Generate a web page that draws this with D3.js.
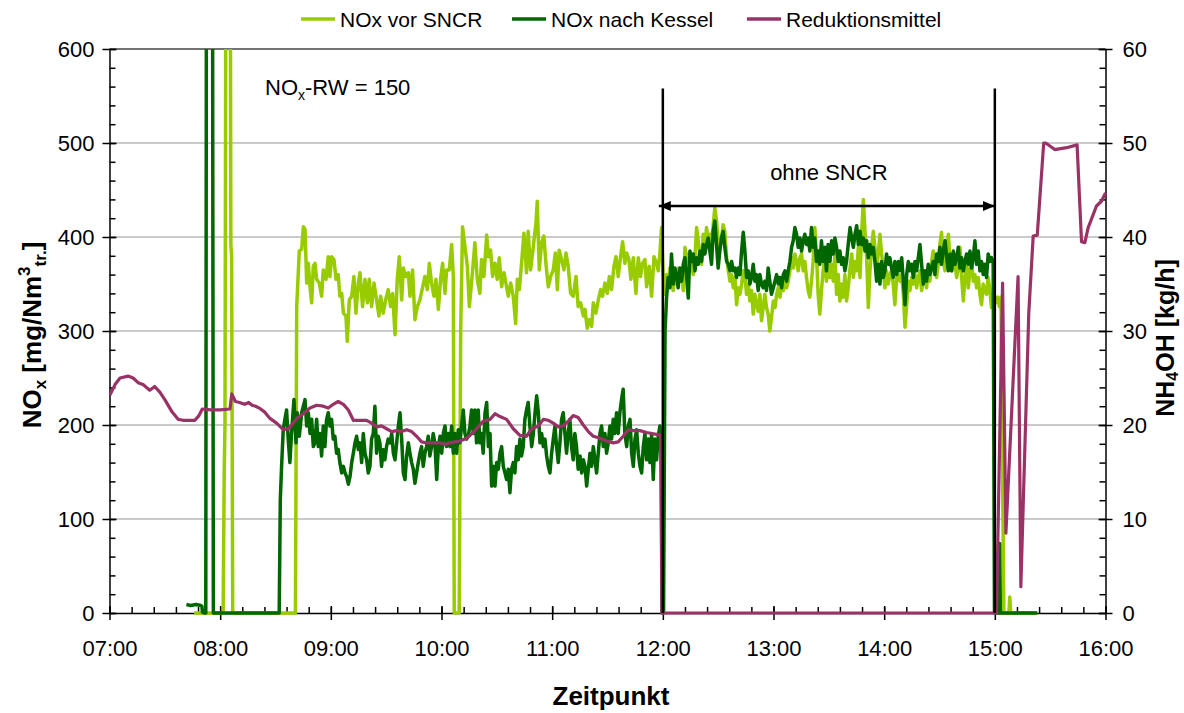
<!DOCTYPE html>
<html>
<head>
<meta charset="utf-8">
<script src="https://cdn.jsdelivr.net/npm/d3@7"></script>
<style>
  body { margin: 0; background: #fff; }
  svg text { font-family: "Liberation Sans", Arial, Helvetica, sans-serif; fill: #000; }
</style>
</head>
<body>
<div id="chart"></div>
<script>
// legend names + colours
const seriesNames = ["NOx vor SNCR", "NOx nach Kessel", "Reduktionsmittel"];
const seriesColors = ["#99cc00", "#006600", "#993366"];

// axis tick labels
const timeLabels = ["07:00", "08:00", "09:00", "10:00", "11:00", "12:00", "13:00", "14:00", "15:00", "16:00"];
const noxTicks = [0, 100, 200, 300, 400, 500, 600];
const nh4ohTicks = [0, 10, 20, 30, 40, 50, 60];

// [minutes after 07:00, NOx mg/Nm3]  (800 = off the top of the chart)
const noxVorSncr = [
  [45.9,0],[61.6,0],[62.2,150],[62.6,200],[63.2,800],[65.4,800],[65.8,392],[66.2,380],[66.8,0],[100.8,0],
  [101.5,326],[102.9,385],[104.2,387],[105.1,411],[106.0,408],[106.9,351],[107.8,372],[108.7,347],[109.6,330],
  [110.5,369],[111.4,372],[112.3,355],[113.7,351],[115.0,337],[115.9,365],[117.4,355],[118.6,379],[119.5,358],
  [120.4,379],[121.7,376],[122.8,355],[124.0,360],[124.9,337],[125.9,340],[126.8,319],[128.2,316],[128.9,289],
  [130.0,333],[131.3,337],[132.5,358],[133.6,319],[134.9,351],[135.8,362],[137.2,326],[138.5,355],[139.8,330],
  [140.8,355],[142.1,326],[143.4,351],[144.8,333],[146.1,316],[147.0,337],[148.4,319],[149.7,333],[151.1,344],
  [152.4,326],[153.5,340],[154.8,296],[156.0,355],[157.1,379],[158.4,333],[159.3,367],[160.7,358],[162.0,362],
  [162.9,337],[164.3,365],[165.6,312],[166.9,326],[168.3,333],[169.8,347],[171.0,358],[172.3,344],[173.4,372],
  [174.6,351],[175.9,337],[177.0,355],[178.3,323],[179.5,355],[180.6,372],[181.9,340],[182.8,365],[184.2,365],
  [185.5,392],[186.4,358],[186.9,0],[189.6,0],[190.4,300],[191.4,411],[192.7,390],[194.0,369],[195.1,326],
  [196.9,365],[198.1,394],[199.4,355],[200.8,340],[201.7,376],[203.0,358],[204.5,402],[205.4,379],[206.6,386],
  [207.7,358],[209.0,372],[210.2,355],[211.3,378],[212.6,347],[213.9,362],[215.3,347],[216.2,337],[217.5,351],
  [218.9,337],[220.2,308],[221.1,355],[222.2,344],[223.4,372],[224.7,404],[226.1,362],[227.0,406],[228.3,365],
  [229.8,390],[231.2,415],[231.9,438],[233.0,365],[234.3,394],[235.5,401],[236.6,372],[237.9,347],[239.2,358],
  [240.6,365],[241.7,383],[242.8,344],[243.8,386],[245.1,376],[246.4,365],[247.5,383],[248.7,369],[250.0,340],
  [251.4,337],[252.9,358],[254.1,326],[255.4,330],[256.9,316],[257.8,323],[259.0,303],[260.1,312],[261.4,305],
  [262.3,330],[263.7,319],[265.0,333],[266.3,344],[267.3,337],[268.6,351],[269.9,340],[271.0,358],[272.2,344],
  [273.5,369],[274.6,379],[275.8,358],[277.1,379],[278.2,395],[279.4,372],[280.4,383],[281.6,376],[282.7,355],
  [284.0,378],[285.4,340],[286.7,378],[287.9,358],[289.0,372],[290.3,376],[291.2,347],[292.6,369],[293.9,337],
  [295.2,379],[296.6,372],[297.5,364],[298.4,382],[299.3,410],[300.2,360],[301.1,339],[302.0,360],[302.9,346],
  [303.8,367],[304.7,353],[305.6,343],[306.5,364],[307.4,350],[308.3,367],[309.3,353],[310.2,360],[311.1,343],
  [312.0,389],[312.9,374],[313.8,382],[314.7,364],[315.6,371],[316.5,360],[317.4,378],[318.3,410],[319.2,396],
  [320.1,378],[321.0,371],[321.9,403],[322.8,389],[323.7,410],[324.6,396],[325.5,403],[326.4,389],[327.3,413],
  [328.2,431],[329.1,417],[330.0,396],[330.9,389],[331.8,399],[332.7,413],[333.6,406],[334.6,378],[335.5,364],
  [336.4,353],[337.3,360],[338.2,346],[339.1,357],[340.0,328],[340.9,346],[341.8,339],[342.7,350],[343.6,364],
  [344.5,357],[345.4,339],[346.3,350],[347.2,332],[348.1,343],[349.0,318],[349.9,339],[350.8,328],[351.7,321],
  [352.6,339],[353.5,311],[354.4,325],[355.3,339],[356.2,325],[357.1,318],[358.0,300],[358.9,314],[359.9,332],
  [360.8,325],[361.7,339],[362.6,346],[363.5,336],[364.4,350],[365.3,343],[366.2,357],[367.1,346],[368.0,353],
  [368.9,364],[369.8,378],[370.7,367],[371.6,382],[372.5,374],[373.4,364],[374.3,378],[375.2,382],[376.1,364],
  [377.0,374],[377.9,357],[378.8,343],[379.7,336],[380.6,353],[381.5,374],[382.4,410],[383.3,382],[384.2,339],
  [385.1,318],[386.0,343],[386.9,364],[387.8,378],[388.7,353],[389.6,371],[390.6,357],[391.5,371],[392.4,353],
  [393.3,382],[394.2,339],[395.1,360],[396.0,332],[396.9,350],[397.8,336],[398.7,360],[399.6,332],[400.5,346],
  [401.5,367],[402.4,382],[403.3,357],[404.2,374],[405.1,364],[406.0,389],[406.9,357],[407.8,403],[408.7,440],
  [409.6,406],[410.5,378],[411.4,325],[412.3,364],[413.2,389],[414.1,406],[415.0,389],[415.9,364],[416.8,382],
  [417.7,403],[418.6,382],[419.5,367],[420.4,346],[421.3,364],[422.2,350],[423.1,360],[424.0,364],[424.9,350],
  [425.8,328],[426.8,357],[427.7,360],[428.6,353],[429.5,360],[430.4,339],[431.3,304],[432.2,328],[433.1,353],
  [434.0,343],[434.9,357],[435.8,350],[436.7,360],[437.6,346],[438.5,357],[439.4,364],[440.3,343],[441.2,353],
  [442.1,360],[443.0,346],[443.9,367],[444.8,353],[445.7,374],[446.6,385],[447.5,367],[448.4,357],[449.3,371],
  [450.2,392],[451.1,405],[452.0,374],[453.0,364],[453.9,385],[454.8,403],[455.7,374],[456.6,364],[457.5,378],
  [458.4,371],[459.3,357],[460.2,367],[461.1,389],[462.0,357],[462.9,332],[463.8,357],[464.7,371],[465.6,346],
  [466.5,364],[467.4,374],[468.3,353],[469.2,360],[470.1,346],[471.0,357],[471.9,339],[472.8,328],[473.7,350],
  [474.6,343],[475.5,339],[476.4,357],[477.3,343],[478.2,325],[479.1,339],[480.5,330],[481.5,336],[482.5,326],
  [483.3,336],[484.9,0],[487.6,0],[488.1,17],[488.6,0],[503.0,0]
];

const noxNachKessel = [
  [41.7,9],[44.0,8],[47.0,9],[49.5,8],[50.1,7],[50.4,1],[51.5,0],[52.2,0],[52.6,800],[55.8,800],[56.3,0],[92.0,0],
  [92.6,120],[93.3,156],[94.2,195],[95.1,206],[96.0,216],[96.9,185],[97.8,160],[98.7,191],[100.0,227],[101.1,181],
  [101.8,213],[102.9,188],[104.2,213],[105.1,220],[106.0,227],[106.9,199],[107.8,213],[108.7,191],[109.6,206],
  [110.5,177],[111.4,181],[112.3,206],[113.2,177],[114.1,191],[115.0,167],[115.9,199],[116.8,177],[117.7,206],
  [118.6,213],[119.5,199],[120.4,206],[121.3,185],[122.2,188],[123.1,170],[124.0,174],[124.9,160],[125.9,149],
  [126.8,156],[127.7,149],[128.6,145],[129.5,137],[130.4,145],[131.3,160],[132.2,170],[133.1,181],[134.0,188],
  [134.9,174],[135.8,181],[136.7,160],[137.6,191],[138.5,170],[139.4,163],[140.3,149],[141.2,156],[142.1,185],
  [143.0,191],[143.9,220],[144.8,170],[145.7,188],[146.6,181],[147.5,156],[148.4,174],[149.3,163],[150.2,177],
  [151.1,185],[152.1,181],[153.0,191],[153.9,170],[154.8,163],[155.7,181],[156.6,199],[157.5,213],[158.4,185],
  [159.3,149],[160.2,142],[161.1,167],[162.0,181],[162.9,170],[163.8,160],[164.7,153],[165.6,138],[166.5,149],
  [167.4,160],[168.3,170],[169.2,177],[170.1,156],[171.0,170],[171.9,177],[172.8,188],[173.7,167],[174.6,177],
  [175.5,191],[176.4,181],[177.4,142],[178.3,177],[179.2,188],[180.1,170],[181.0,191],[181.9,199],[182.8,177],
  [183.7,191],[184.6,177],[185.5,199],[186.4,170],[187.3,191],[188.2,170],[189.1,195],[190.0,181],[190.9,199],
  [191.8,216],[192.7,191],[193.6,185],[194.5,188],[195.4,199],[196.3,216],[197.2,191],[198.1,216],[199.0,181],
  [199.9,216],[200.8,181],[201.7,191],[202.6,170],[203.6,213],[204.5,224],[205.4,177],[206.3,191],[207.2,135],
  [208.1,156],[209.0,135],[209.9,160],[210.8,153],[211.7,170],[212.6,177],[213.5,156],[214.4,149],[215.3,142],
  [216.2,153],[217.1,128],[218.0,153],[218.9,160],[219.8,149],[220.7,177],[221.6,163],[222.5,185],[223.4,167],
  [224.3,177],[225.2,206],[226.1,216],[227.0,224],[227.9,199],[228.9,177],[229.8,191],[230.7,213],[231.6,231],
  [232.5,213],[233.4,181],[234.3,191],[235.2,177],[236.1,185],[237.0,167],[237.9,156],[238.8,149],[239.7,170],
  [240.6,185],[241.5,199],[242.4,177],[243.3,160],[244.2,181],[245.1,206],[246.0,213],[246.9,191],[247.8,170],
  [248.7,191],[249.6,206],[250.5,177],[251.4,163],[252.3,191],[253.2,177],[254.1,153],[255.1,167],[256.0,149],
  [256.9,163],[257.8,156],[258.7,135],[259.6,153],[260.5,170],[261.4,156],[262.3,177],[263.2,163],[264.1,149],
  [265.0,170],[265.9,191],[266.8,199],[267.7,177],[268.6,191],[269.5,170],[270.4,181],[271.3,199],[272.2,185],
  [273.1,206],[274.0,191],[274.9,213],[275.8,191],[276.7,213],[277.6,227],[278.5,238],[279.4,191],[280.4,177],
  [281.3,199],[282.2,206],[283.1,170],[284.0,156],[284.9,185],[285.8,195],[286.7,170],[287.6,156],[288.5,149],
  [289.4,177],[290.3,191],[291.2,163],[292.1,185],[293.0,160],[293.9,191],[294.8,142],[295.7,185],[296.6,163],
  [297.5,188],[298.4,199],[299.2,170],[299.6,0],[300.4,0],[301.2,300],[302.0,335],[302.9,357],[303.8,346],
  [304.7,382],[305.6,350],[306.5,367],[307.4,360],[308.3,346],[309.3,367],[310.2,353],[311.1,371],[312.0,378],
  [312.9,357],[313.8,335],[314.7,385],[315.6,374],[316.5,382],[317.4,364],[318.3,378],[319.2,371],[320.1,385],
  [321.0,374],[321.9,392],[322.8,382],[323.7,392],[324.6,399],[325.5,385],[326.4,371],[327.3,406],[328.2,417],
  [329.1,392],[330.0,367],[330.9,385],[331.8,399],[332.7,406],[333.6,389],[334.6,374],[335.5,371],[336.4,364],
  [337.3,374],[338.2,364],[339.1,367],[340.0,357],[340.9,367],[341.8,360],[342.7,385],[343.6,405],[344.5,385],
  [345.4,357],[346.3,364],[347.2,350],[348.1,357],[349.0,371],[349.9,353],[350.8,360],[351.7,343],[352.6,360],
  [353.5,350],[354.4,346],[355.3,353],[356.2,343],[357.1,367],[358.0,353],[358.9,339],[359.9,346],[360.8,353],
  [361.7,360],[362.6,350],[363.5,357],[364.4,346],[365.3,360],[366.2,364],[367.1,353],[368.0,364],[368.9,374],
  [369.8,389],[370.7,396],[371.6,410],[372.5,403],[373.4,389],[374.3,399],[375.2,385],[376.1,396],[377.0,403],
  [377.9,392],[378.8,399],[379.7,385],[380.6,410],[381.5,389],[382.4,399],[383.3,374],[384.2,385],[385.1,371],
  [386.0,396],[386.9,374],[387.8,389],[388.7,364],[389.6,392],[390.6,374],[391.5,396],[392.4,382],[393.3,399],
  [394.2,389],[395.1,374],[396.0,385],[396.9,371],[397.8,378],[398.7,364],[399.6,374],[400.5,392],[401.5,410],
  [402.4,399],[403.3,389],[404.2,403],[405.1,412],[406.0,392],[406.9,406],[407.8,392],[408.7,399],[409.6,385],
  [410.5,396],[411.4,378],[412.3,392],[413.2,382],[414.1,389],[415.0,374],[415.9,353],[416.8,371],[417.7,350],
  [418.6,374],[419.5,357],[420.4,364],[421.3,382],[422.2,371],[423.1,378],[424.0,367],[424.9,357],[425.8,374],
  [426.8,360],[427.7,374],[428.6,364],[429.5,378],[430.4,353],[431.3,328],[432.2,360],[433.1,374],[434.0,364],
  [434.9,371],[435.8,357],[436.7,374],[437.6,364],[438.5,378],[439.4,392],[440.3,371],[441.2,350],[442.1,364],
  [443.0,353],[443.9,371],[444.8,360],[445.7,367],[446.6,374],[447.5,360],[448.4,382],[449.3,374],[450.2,389],
  [451.1,371],[452.0,385],[453.0,396],[453.9,378],[454.8,364],[455.7,382],[456.6,364],[457.5,385],[458.4,371],
  [459.3,378],[460.2,389],[461.1,367],[462.0,378],[462.9,364],[463.8,374],[464.7,382],[465.6,371],[466.5,385],
  [467.4,367],[468.3,378],[469.2,396],[470.1,371],[471.0,385],[471.9,364],[472.8,374],[473.7,360],[474.6,371],
  [475.5,357],[476.4,382],[477.3,374],[478.2,378],[479.1,372],[479.8,0],[482.0,0],[482.6,74],[483.0,0],[503.0,0]
];

// [minutes after 07:00, NH4OH kg/h]
const reduktionsmittel = [
  [0.3,23.2],[3.0,24.3],[5.7,25.0],[10.1,25.2],[12.8,25.0],[15.5,24.5],[18.2,24.3],[21.8,23.7],[24.5,24.1],
  [27.3,23.5],[30.0,22.7],[33.9,21.4],[37.2,20.6],[40.0,20.5],[43.7,20.5],[46.3,20.5],[48.5,21.0],[50.3,21.7],
  [55.0,21.6],[60.0,21.6],[65.3,21.7],[66.3,23.3],[68.3,22.5],[70.5,22.4],[73.3,22.2],[75.5,22.4],[77.3,22.1],
  [79.2,22.0],[81.2,21.8],[84.0,21.4],[87.0,20.7],[90.6,20.2],[94.2,19.5],[96.9,19.6],[99.6,20.2],[101.5,20.7],
  [105.1,21.2],[108.7,21.8],[112.3,22.1],[115.9,22.0],[118.6,21.8],[121.3,22.2],[124.0,22.5],[126.8,22.2],
  [129.5,21.6],[132.2,20.5],[134.9,20.5],[139.4,20.5],[142.1,20.2],[144.8,19.8],[147.5,19.9],[150.2,19.6],
  [153.0,19.3],[155.7,19.4],[158.4,19.3],[161.1,19.5],[163.8,19.3],[166.5,18.8],[169.2,18.2],[171.9,18.1],
  [175.5,18.1],[179.2,18.1],[181.9,17.9],[184.6,18.1],[187.3,18.2],[190.0,18.3],[193.6,18.6],[197.2,19.2],
  [199.9,19.8],[202.6,20.4],[206.3,20.6],[209.0,21.2],[211.7,20.9],[215.3,20.6],[218.9,19.6],[222.5,18.9],
  [226.1,18.8],[228.9,19.6],[232.5,19.9],[235.2,20.6],[237.9,20.5],[240.6,20.2],[243.3,19.8],[246.0,19.9],
  [248.7,20.4],[251.4,21.0],[254.1,20.8],[256.9,20.0],[259.6,19.3],[262.3,18.8],[265.9,18.6],[269.5,18.3],
  [273.1,18.1],[275.8,18.2],[278.5,18.8],[281.3,19.5],[284.0,19.4],[287.6,19.4],[291.2,19.2],[293.9,19.1],
  [296.6,19.0],[298.8,18.9],[299.5,0],[480.0,0],[480.9,0],[484.2,35.1],[486.0,8.5],[492.6,35.8],[494.1,2.8],
  [498.4,31.9],[500.8,40.1],[503.0,40.2],[506.5,50.0],[507.6,50.0],[512.5,49.3],[518.9,49.5],[524.6,49.8],
  [527.0,39.5],[528.8,39.4],[530.6,41.0],[532.4,41.9],[535.1,43.3],[537.8,43.8],[540.0,44.7]
];

// "ohne SNCR" period (minutes after 07:00) and its marker heights in NOx units
const ohneSncrPeriod = [300, 480];
const markerTop = 558;
const arrowLevel = 433;

const W = 1184, H = 713;
const margin = { left: 109.5, right: 1105.5, top: 49, bottom: 613 };

const svg = d3.select("#chart").append("svg")
    .attr("width", W)
    .attr("height", H);

const x = d3.scaleLinear().domain([0, 540]).range([margin.left, margin.right]);
const y = d3.scaleLinear().domain([0, 600]).range([margin.bottom, margin.top]);
const y2 = d3.scaleLinear().domain([0, 60]).range([margin.bottom, margin.top]);

// horizontal gridlines
svg.append("g")
    .selectAll("line")
    .data(noxTicks.filter(d => d > 0))
    .join("line")
    .attr("x1", margin.left).attr("x2", margin.right)
    .attr("y1", d => y(d)).attr("y2", d => y(d))
    .attr("stroke", d => d === 600 ? "#444" : "#b8b8b8")
    .attr("stroke-width", 1.5);

function styleAxis(g) {
    g.selectAll("path, line").attr("stroke", "#000").attr("stroke-width", 1.5);
    g.selectAll("text").attr("font-size", 22).attr("fill", "#000")
        .attr("font-family", "Liberation Sans, Arial, sans-serif");
}
const noDomain = g => g.select(".domain").remove();

// left axis: labels + outer ticks, inner major + minor ticks
const gL = svg.append("g").attr("transform", `translate(${margin.left},0)`);
gL.call(d3.axisLeft(y).tickValues(noxTicks).tickSize(7).tickSizeOuter(0).tickPadding(8));
gL.append("g").call(d3.axisRight(y).tickValues(noxTicks).tickSize(7).tickFormat("")).call(noDomain);
gL.append("g").call(d3.axisRight(y).tickValues(d3.range(0, 601, 20)).tickSize(6).tickFormat("")).call(noDomain);
styleAxis(gL);

// right axis
const gR = svg.append("g").attr("transform", `translate(${margin.right},0)`);
gR.call(d3.axisRight(y2).tickValues(nh4ohTicks).tickSize(7).tickSizeOuter(0).tickPadding(10));
gR.append("g").call(d3.axisLeft(y2).tickValues(nh4ohTicks).tickSize(7).tickFormat("")).call(noDomain);
gR.append("g").call(d3.axisLeft(y2).tickValues(d3.range(0, 61, 2)).tickSize(6).tickFormat("")).call(noDomain);
styleAxis(gR);

// bottom time axis
const hourTicks = timeLabels.map((d, i) => i * 60);
const gB = svg.append("g").attr("transform", `translate(0,${margin.bottom})`);
gB.call(d3.axisBottom(x).tickValues(hourTicks).tickSize(7).tickSizeOuter(0).tickPadding(20)
    .tickFormat((d, i) => timeLabels[i]));
gB.append("g").call(d3.axisTop(x).tickValues(hourTicks).tickSize(7).tickFormat("")).call(noDomain);
gB.append("g").call(d3.axisTop(x).tickValues(d3.range(0, 541, 12)).tickSize(6).tickFormat("")).call(noDomain);
styleAxis(gB);

// clip lines to the plot area (a bit below zero so the zero line shows fully)
svg.append("clipPath").attr("id", "plot-clip")
    .append("rect")
    .attr("x", margin.left - 2).attr("y", margin.top)
    .attr("width", margin.right - margin.left + 4).attr("height", margin.bottom - margin.top + 4);

const lineNox = d3.line().x(d => x(d[0])).y(d => y(d[1]));
const lineNh4 = d3.line().x(d => x(d[0])).y(d => y2(d[1]));

const plot = svg.append("g").attr("clip-path", "url(#plot-clip)");
plot.append("path").datum(noxVorSncr)
    .attr("fill", "none").attr("stroke", seriesColors[0])
    .attr("stroke-width", 3.5).attr("stroke-linejoin", "round")
    .attr("d", lineNox);
plot.append("path").datum(noxNachKessel)
    .attr("fill", "none").attr("stroke", seriesColors[1])
    .attr("stroke-width", 3.5).attr("stroke-linejoin", "round")
    .attr("d", lineNox);
plot.append("path").datum(reduktionsmittel)
    .attr("fill", "none").attr("stroke", seriesColors[2])
    .attr("stroke-width", 3.2).attr("stroke-linejoin", "round")
    .attr("d", lineNh4);

// markers for the period without SNCR
const defs = svg.append("defs");
["start", "end"].forEach(k => {
    defs.append("marker")
        .attr("id", "arrow-" + k)
        .attr("viewBox", "0 0 12 10")
        .attr("refX", k === "end" ? 12 : 0).attr("refY", 5)
        .attr("markerWidth", 12).attr("markerHeight", 10)
        .attr("markerUnits", "userSpaceOnUse")
        .attr("orient", "auto")
        .append("path")
        .attr("d", k === "end" ? "M0,0 L12,5 L0,10 Z" : "M12,0 L0,5 L12,10 Z")
        .attr("fill", "#000");
});

svg.append("g")
    .selectAll("line")
    .data(ohneSncrPeriod)
    .join("line")
    .attr("x1", d => x(d)).attr("x2", d => x(d))
    .attr("y1", y(markerTop)).attr("y2", y(0))
    .attr("stroke", "#000").attr("stroke-width", 2.5);

svg.append("line")
    .attr("x1", x(ohneSncrPeriod[0]) - 4).attr("x2", x(ohneSncrPeriod[1]))
    .attr("y1", y(arrowLevel)).attr("y2", y(arrowLevel))
    .attr("stroke", "#000").attr("stroke-width", 2.5)
    .attr("marker-start", "url(#arrow-start)")
    .attr("marker-end", "url(#arrow-end)");

svg.append("text")
    .attr("x", x(d3.mean(ohneSncrPeriod)))
    .attr("y", 180)
    .attr("text-anchor", "middle")
    .attr("font-size", 22)
    .text("ohne SNCR");

const rw = svg.append("text")
    .attr("x", 265).attr("y", 95)
    .attr("font-size", 22);
rw.append("tspan").text("NO");
rw.append("tspan").attr("font-size", 14).attr("dy", 5).text("x");
rw.append("tspan").attr("dy", -5).text("-RW = 150");

// legend
const legend = svg.append("g");
const legendX = [301, 512, 747];
seriesNames.forEach((name, i) => {
    legend.append("line")
        .attr("x1", legendX[i]).attr("x2", legendX[i] + 34)
        .attr("y1", 19).attr("y2", 19)
        .attr("stroke", seriesColors[i]).attr("stroke-width", 3.5);
    legend.append("text")
        .attr("x", legendX[i] + 39).attr("y", 27)
        .attr("font-size", 21)
        .text(name);
});

// axis titles
svg.append("text")
    .attr("x", 611).attr("y", 705)
    .attr("text-anchor", "middle")
    .attr("font-size", 26).attr("font-weight", "bold")
    .text("Zeitpunkt");

const tl = svg.append("text")
    .attr("transform", "translate(41,335) rotate(-90)")
    .attr("text-anchor", "middle")
    .attr("font-size", 26).attr("font-weight", "bold");
tl.append("tspan").text("NO");
tl.append("tspan").attr("font-size", 17).attr("dy", 5).text("x");
tl.append("tspan").attr("dy", -5).text(" [mg/Nm");
tl.append("tspan").attr("font-size", 17).attr("dy", -11).text("3");
tl.append("tspan").attr("font-size", 17).attr("dy", 16).text("tr.");
tl.append("tspan").attr("dy", -5).text("]");

const tr = svg.append("text")
    .attr("transform", "translate(1174,338) rotate(-90)")
    .attr("text-anchor", "middle")
    .attr("font-size", 25).attr("font-weight", "bold");
tr.append("tspan").text("NH");
tr.append("tspan").attr("font-size", 16).attr("dy", 4).text("4");
tr.append("tspan").attr("dy", -4).text("OH [kg/h]");
</script>
</body>
</html>
